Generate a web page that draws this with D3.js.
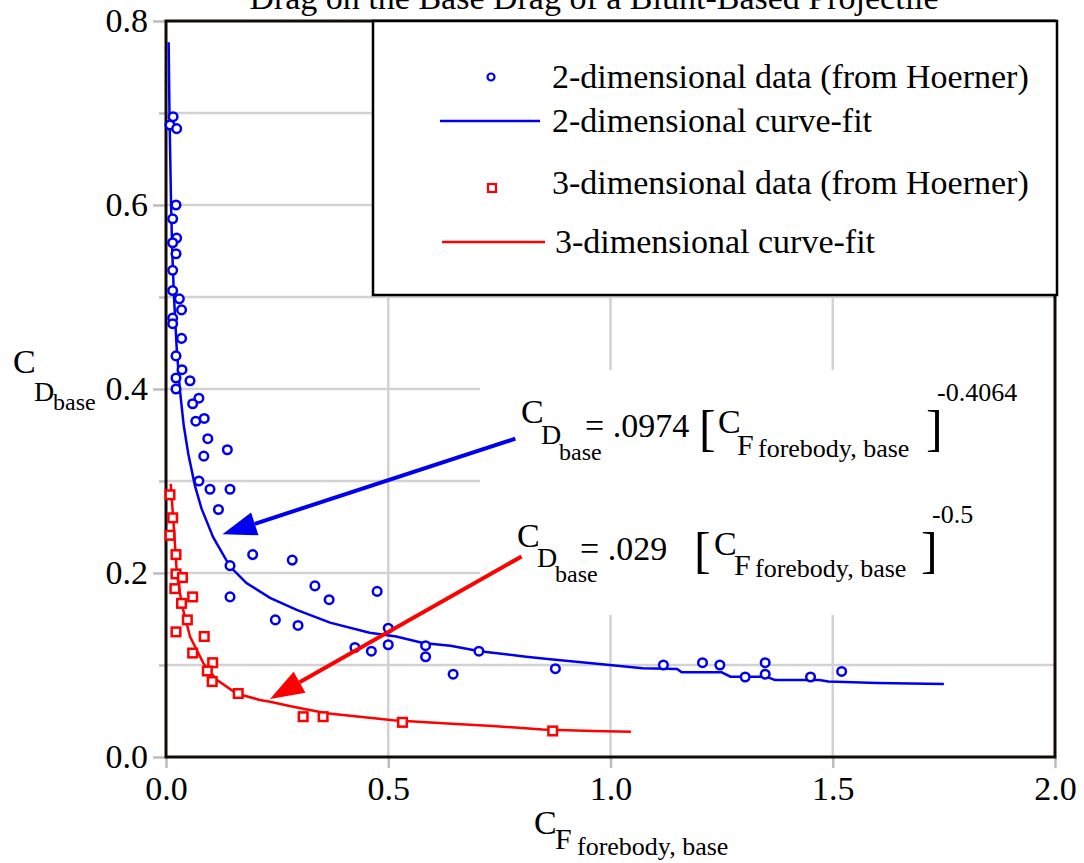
<!DOCTYPE html>
<html>
<head>
<meta charset="utf-8">
<script src="https://cdn.jsdelivr.net/npm/d3@7"></script>
<style>
  html, body { margin: 0; padding: 0; background: #fff; }
  svg { display: block; font-family: "Liberation Serif", "Times New Roman", serif; }
</style>
</head>
<body>
<script>
// 2-dimensional data (from Hoerner)
var data2dX = [0.016,0.009,0.024,0.0225,0.015,0.024,0.015,0.0225,0.015,0.015,0.030,0.035,0.015,0.015,0.035,0.0225,0.036,0.054,0.0225,0.0225,
  0.074,0.060,0.086,0.067,0.094,0.085,0.138,0.074,0.099,0.144,0.118,0.195,0.284,0.144,0.335,0.367,0.475,0.144,0.246,0.297,
  0.500,0.500,0.425,0.462,0.584,0.584,0.704,0.646,0.876,1.119,1.207,1.246,1.303,1.348,1.348,1.450,1.520];
var data2dY = [0.696,0.687,0.683,0.600,0.585,0.564,0.559,0.547,0.529,0.507,0.498,0.486,0.477,0.471,0.455,0.436,0.421,0.409,0.412,0.400,
  0.390,0.384,0.368,0.365,0.346,0.327,0.334,0.300,0.291,0.291,0.269,0.220,0.214,0.208,0.186,0.171,0.180,0.174,0.149,0.143,
  0.140,0.122,0.119,0.115,0.121,0.109,0.115,0.090,0.096,0.100,0.1025,0.100,0.087,0.1025,0.090,0.087,0.093];

// 3-dimensional data (from Hoerner)
var data3dX = [0.009,0.015,0.009,0.0225,0.0225,0.037,0.020,0.060,0.035,0.048,0.0225,0.086,0.060,0.105,0.093,0.104,0.1625,0.3086,0.3535,0.532,0.870];
var data3dY = [0.285,0.260,0.241,0.220,0.199,0.195,0.183,0.174,0.167,0.149,0.136,0.131,0.113,0.1025,0.0935,0.082,0.069,0.0438,0.0438,0.0377,0.0283];

// curve-fits
var fit2dX = [0.006,0.0078,0.0114,0.014,0.018,0.024,0.031,0.04,0.05,0.065,0.08,0.106,0.144,0.181,0.234,0.294,0.369,0.458,0.518,0.578,
  0.64,0.706,0.81,0.87,0.923,0.998,1.072,1.15,1.16,1.25,1.27,1.35,1.37,1.47,1.49,1.6,1.75];
var fit2dY = [0.777,0.70,0.60,0.55,0.50,0.445,0.40,0.36,0.33,0.295,0.27,0.239,0.207,0.189,0.173,0.160,0.146,0.135,0.131,0.124,
  0.121,0.115,0.109,0.106,0.1036,0.100,0.0964,0.0957,0.092,0.092,0.0873,0.0873,0.0837,0.0837,0.082,0.0805,0.0793];
var fit3dX = [0.0106,0.0164,0.024,0.035,0.054,0.084,0.114,0.159,0.211,0.234,0.286,0.361,0.436,0.511,0.623,0.735,0.847,0.96,1.046];
var fit3dY = [0.297,0.258,0.203,0.167,0.131,0.102,0.084,0.069,0.062,0.060,0.0547,0.0475,0.0438,0.040,0.0366,0.0337,0.030,0.0283,0.0275];

// axis ticks
var xTicks = [0, 0.5, 1.0, 1.5, 2.0];
var yTicks = [0, 0.2, 0.4, 0.6, 0.8];
var yMinorTicks = [0.1, 0.3, 0.5, 0.7];
var yGrid = [0.1, 0.2, 0.3, 0.4, 0.5, 0.6, 0.7];
var xGrid = [0.5, 1.0, 1.5];

var legendLabels = ['2-dimensional data (from Hoerner)', '2-dimensional curve-fit',
  '3-dimensional data (from Hoerner)', '3-dimensional curve-fit'];

// arrows [tailX, tailY, tipX, tipY] in data units
var arrow2d = [0.786, 0.346, 0.127, 0.242];
var arrow3d = [0.800, 0.218, 0.234, 0.063];

var W = 1084, H = 863;
var margin = {top: 21, right: 29, bottom: 106, left: 166}
, width = W - margin.left - margin.right
, height = H - margin.top - margin.bottom;

var x = d3.scaleLinear().domain([0, 2]).range([0, width]);
var y = d3.scaleLinear().domain([0, 0.8]).range([height, 0]);

var BLUE = '#0000f0', RED = '#ff0000', GRID = '#d2d2d2';

var svg = d3.select('body').append('svg')
    .attr('width', W)
    .attr('height', H);

var main = svg.append('g')
    .attr('transform', 'translate(' + margin.left + ',' + margin.top + ')');

// grid
main.append('g').selectAll('line.h').data(yGrid).enter().append('line')
    .attr('x1', 0).attr('x2', width)
    .attr('y1', function(d) { return y(d); }).attr('y2', function(d) { return y(d); })
    .attr('stroke', GRID).attr('stroke-width', 2.5);
main.append('g').selectAll('line.v').data(xGrid).enter().append('line')
    .attr('x1', function(d) { return x(d); }).attr('x2', function(d) { return x(d); })
    .attr('y1', 0).attr('y2', height)
    .attr('stroke', GRID).attr('stroke-width', 2.5);

// axes (ticks + labels)
var yAxis = d3.axisLeft(y).tickValues(yTicks).tickSize(13).tickPadding(5).tickFormat(d3.format('.1f'));
var yAxisMinor = d3.axisLeft(y).tickValues(yMinorTicks).tickSize(7).tickFormat('');
var xAxis = d3.axisBottom(x).tickValues(xTicks).tickSize(11).tickPadding(8).tickFormat(d3.format('.1f'));

function styleAxis(g) {
  g.select('.domain').remove();
  g.selectAll('.tick line').attr('stroke', '#bdbdbd').attr('stroke-width', 2.5);
  g.selectAll('.tick text').attr('fill', '#000')
      .style('font-family', '"Liberation Serif", "Times New Roman", serif')
      .style('font-size', '34px');
}
main.append('g').call(yAxis).call(styleAxis);
main.append('g').call(yAxisMinor).call(styleAxis);
main.append('g').attr('transform', 'translate(0,' + height + ')').call(xAxis).call(styleAxis);

// white box behind the equations
main.append('rect')
    .attr('x', 314).attr('y', 349).attr('width', width - 314).attr('height', 245)
    .attr('fill', '#fff');

// frame
main.append('rect')
    .attr('x', 0).attr('y', 0).attr('width', width).attr('height', height)
    .attr('fill', 'none').attr('stroke', '#120a06').attr('stroke-width', 3);

// legend
var lg = main.append('g').attr('transform', 'translate(' + (373 - margin.left) + ',0)');
lg.append('rect').attr('x', 0).attr('y', 0).attr('width', 684).attr('height', 274)
    .attr('fill', '#fff').attr('stroke', '#000').attr('stroke-width', 2.5);
var legY = [56, 100, 162, 221];
lg.append('circle').attr('cx', 118).attr('cy', legY[0]).attr('r', 3.5)
    .attr('fill', '#fff').attr('stroke', BLUE).attr('stroke-width', 2.2);
lg.append('line').attr('x1', 67).attr('x2', 167).attr('y1', legY[1]).attr('y2', legY[1])
    .attr('stroke', BLUE).attr('stroke-width', 2.5);
lg.append('rect').attr('x', 115).attr('y', legY[2] + 1).attr('width', 8).attr('height', 8)
    .attr('fill', '#fff').attr('stroke', RED).attr('stroke-width', 2.2);
lg.append('line').attr('x1', 69).attr('x2', 172).attr('y1', legY[3]).attr('y2', legY[3])
    .attr('stroke', RED).attr('stroke-width', 2.5);
lg.selectAll('text.leg').data(legendLabels).enter().append('text')
    .attr('x', function(d, i) { return i == 3 ? 182 : 179; })
    .attr('y', function(d, i) { return legY[i] + 11; })
    .style('font-size', '34px')
    .text(function(d) { return d; });

// curve-fits
var line = d3.line().x(function(d) { return x(d[0]); }).y(function(d) { return y(d[1]); });
main.append('path').datum(d3.zip(fit2dX, fit2dY)).attr('d', line)
    .attr('fill', 'none').attr('stroke', BLUE).attr('stroke-width', 2.5);
main.append('path').datum(d3.zip(fit3dX, fit3dY)).attr('d', line)
    .attr('fill', 'none').attr('stroke', RED).attr('stroke-width', 2.5);

// data points
main.append('g').selectAll('circle').data(d3.zip(data2dX, data2dY)).enter().append('circle')
    .attr('cx', function(d) { return x(d[0]); })
    .attr('cy', function(d) { return y(d[1]); })
    .attr('r', 4.3)
    .attr('fill', '#fff').attr('stroke', BLUE).attr('stroke-width', 2.5);
main.append('g').selectAll('rect').data(d3.zip(data3dX, data3dY)).enter().append('rect')
    .attr('x', function(d) { return x(d[0]) - 4.3; })
    .attr('y', function(d) { return y(d[1]) - 4.3; })
    .attr('width', 8.6).attr('height', 8.6)
    .attr('fill', '#fff').attr('stroke', RED).attr('stroke-width', 2.5);

// arrows
function arrow(a, color) {
  var x1 = x(a[0]), y1 = y(a[1]), x2 = x(a[2]), y2 = y(a[3]);
  var ang = Math.atan2(y2 - y1, x2 - x1), len = 34, hw = 12;
  var bx = x2 - len * Math.cos(ang), by = y2 - len * Math.sin(ang);
  main.append('line').attr('x1', x1).attr('y1', y1).attr('x2', bx).attr('y2', by)
      .attr('stroke', color).attr('stroke-width', 4);
  var pts = [[x2, y2],
    [bx + hw * Math.sin(ang), by - hw * Math.cos(ang)],
    [bx - hw * Math.sin(ang), by + hw * Math.cos(ang)]];
  main.append('path').attr('d', 'M' + pts.join('L') + 'Z').attr('fill', color);
}
arrow(arrow2d, BLUE);
arrow(arrow3d, RED);

// texts placed on the page: [text, x, baseline, size]
function pieces(list) {
  svg.append('g').selectAll('text').data(list).enter().append('text')
      .attr('x', function(d) { return d[1]; })
      .attr('y', function(d) { return d[2]; })
      .style('font-size', function(d) { return d[3] + 'px'; })
      .attr('xml:space', 'preserve')
      .text(function(d) { return d[0]; });
}

// title (cut at the top edge)
svg.append('text').attr('x', 594).attr('y', 9).attr('text-anchor', 'middle')
    .style('font-size', '34px')
    .text('Drag on the Base Drag of a Blunt-Based Projectile');

// axis titles
pieces([['C', 534, 834, 34], ['F', 555, 849, 30], ['forebody, base', 577, 855, 26]]);
pieces([['C', 13, 373, 34], ['D', 34, 401, 28], ['base', 53, 410, 24]]);

// equations
pieces([['C', 521, 423, 34], ['D', 541, 444, 28], ['base', 559, 460, 24], ['= .0974', 585, 437, 34],
  ['[', 699, 445, 50], ['C', 718, 433, 34], ['F', 737, 455, 30], ['forebody, base', 758, 457, 26],
  [']', 926, 445, 50], ['-0.4064', 937, 401, 26]]);
pieces([['C', 517, 547, 34], ['D', 537, 567, 28], ['base', 555, 582, 24], ['= .029', 580, 560, 34],
  ['[', 694, 567, 50], ['C', 714, 555, 34], ['F', 734, 575, 30], ['forebody, base', 755, 577, 26],
  [']', 921, 567, 50], ['-0.5', 932, 523, 26]]);
</script>
</body>
</html>
